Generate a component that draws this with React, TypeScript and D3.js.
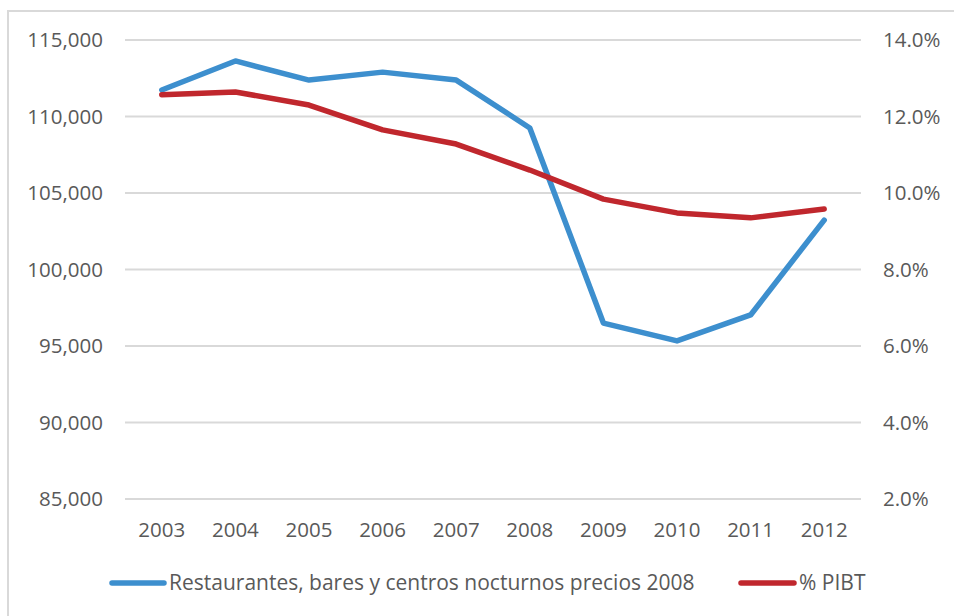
import React from "react";
import * as d3 from "d3";

const years = ["2003", "2004", "2005", "2006", "2007", "2008", "2009", "2010", "2011", "2012"];
const restaurantes = [111730, 113630, 112380, 112900, 112380, 109250, 96500, 95330, 97030, 103230];
const pibt = [0.1257, 0.1264, 0.123, 0.1165, 0.1128, 0.106, 0.0984, 0.0948, 0.0935, 0.0958];
const leftTicks = [85000, 90000, 95000, 100000, 105000, 110000, 115000];
const rightTicks = [0.02, 0.04, 0.06, 0.08, 0.1, 0.12, 0.14];

const seriesNames = ["Restaurantes, bares y centros nocturnos precios 2008", "% PIBT"];
const blue = "#3d8fce";
const red = "#c0272d";
const textColor = "#595959";
const gridColor = "#d9d9d9";

const width = 954;
const height = 616;
const margin = { top: 40, right: 93, bottom: 117, left: 125 };

const App: React.FC = () => {
  const x = d3
    .scaleBand()
    .domain(years)
    .range([margin.left, width - margin.right])
    .padding(0);
  const yLeft = d3
    .scaleLinear()
    .domain([85000, 115000])
    .range([height - margin.bottom, margin.top]);
  const yRight = d3
    .scaleLinear()
    .domain([0.02, 0.14])
    .range([height - margin.bottom, margin.top]);

  const cx = (d: string) => (x(d) ?? 0) + x.bandwidth() / 2;

  const lineLeft = d3
    .line<number>()
    .x((_, i) => cx(years[i]))
    .y((d) => yLeft(d));
  const lineRight = d3
    .line<number>()
    .x((_, i) => cx(years[i]))
    .y((d) => yRight(d));

  const fmtLeft = d3.format(",");
  const fmtRight = d3.format(".1%");
  const font = "'Open Sans', sans-serif";

  return (
    <svg
      width={width}
      height={height}
      style={{ position: "absolute", left: 0, top: 0, background: "#fff" }}
      fontFamily={font}
    >
      <rect x={0} y={0} width={width} height={height} fill="#fff" />
      {/* chart frame, runs off the right and bottom edges */}
      <rect x={8} y={11} width={width + 20} height={height + 20} fill="none" stroke={gridColor} strokeWidth={2} />

      {/* gridlines */}
      {leftTicks.map((t) => (
        <line
          key={t}
          x1={margin.left}
          x2={width - margin.right}
          y1={yLeft(t)}
          y2={yLeft(t)}
          stroke={gridColor}
          strokeWidth={2}
        />
      ))}

      {/* left axis labels */}
      {leftTicks.map((t) => (
        <text
          key={t}
          x={103}
          y={yLeft(t)}
          dy="0.35em"
          textAnchor="end"
          fontSize={20.5}
          fill={textColor}
        >
          {fmtLeft(t)}
        </text>
      ))}

      {/* right axis labels */}
      {rightTicks.map((t) => (
        <text
          key={t}
          x={883}
          y={yRight(t)}
          dy="0.35em"
          textAnchor="start"
          fontSize={20.5}
          fill={textColor}
        >
          {fmtRight(t)}
        </text>
      ))}

      {/* x axis labels */}
      {years.map((yr) => (
        <text key={yr} x={cx(yr)} y={530} dy="0.35em" textAnchor="middle" fontSize={20.5} fill={textColor}>
          {yr}
        </text>
      ))}

      {/* series */}
      <path d={lineLeft(restaurantes) ?? ""} fill="none" stroke={blue} strokeWidth={5.5} strokeLinejoin="round" strokeLinecap="round" />
      <path d={lineRight(pibt) ?? ""} fill="none" stroke={red} strokeWidth={5.5} strokeLinejoin="round" strokeLinecap="round" />

      {/* legend */}
      <g transform="translate(0,583)" fontSize={21} fill={textColor}>
        <line x1={112} x2={164} y1={0} y2={0} stroke={blue} strokeWidth={5.5} strokeLinecap="round" />
        <text x={169} y={0} dy="0.35em">
          {seriesNames[0]}
        </text>
        <line x1={741} x2={794} y1={0} y2={0} stroke={red} strokeWidth={5.5} strokeLinecap="round" />
        <text x={799} y={0} dy="0.35em">
          {seriesNames[1]}
        </text>
      </g>
    </svg>
  );
};

export default App;
